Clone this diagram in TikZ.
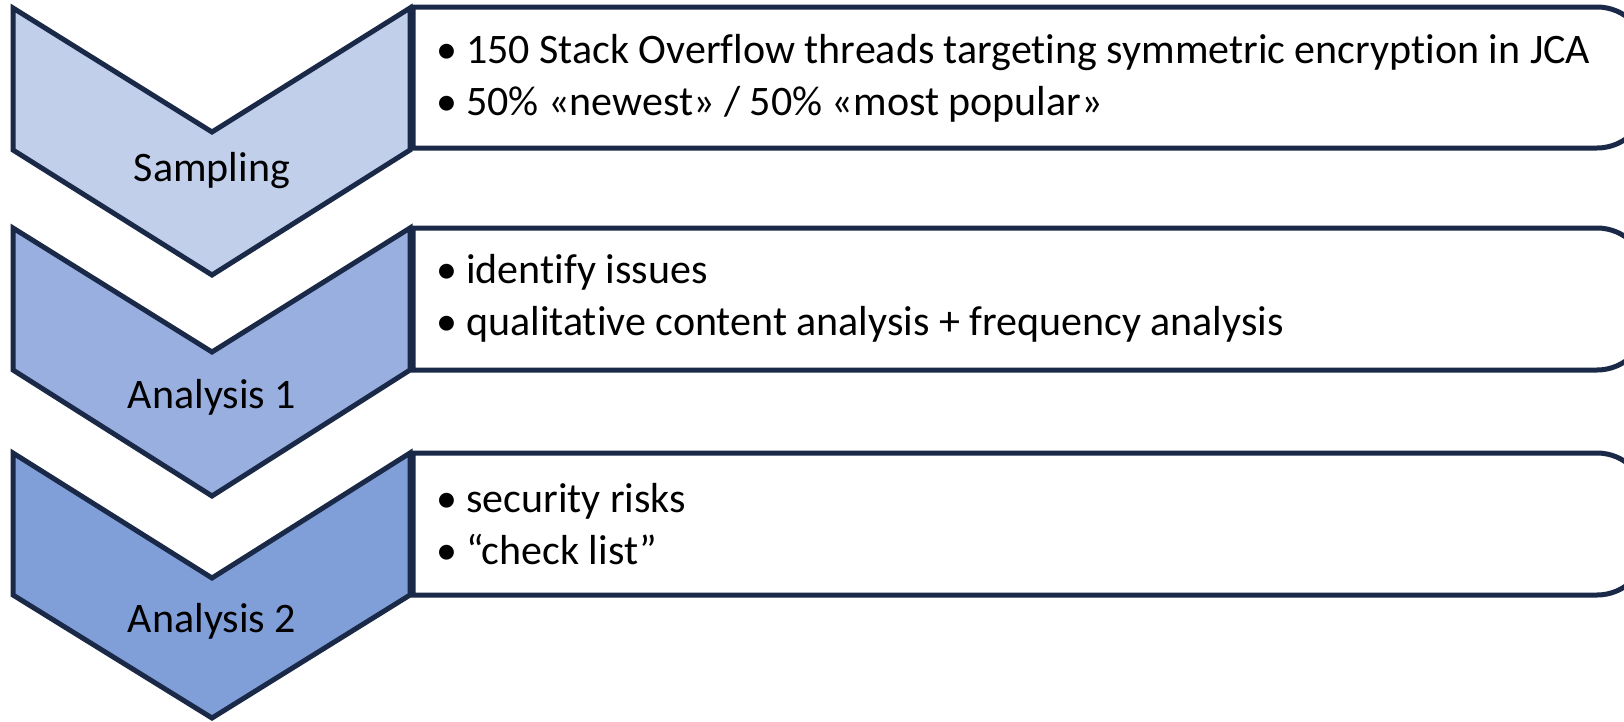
\documentclass[tikz,border=0pt]{standalone}
\usepackage{fontspec}
\setmainfont{Carlito}[Ligatures=NoCommon]
\definecolor{navy}{HTML}{1A2947}
\definecolor{cA}{HTML}{C1CFEB}
\definecolor{cB}{HTML}{98AFDF}
\definecolor{cC}{HTML}{809ED7}
\newcommand{\bl}{\makebox[30pt][l]{•}}
\tikzset{
  chev/.style={draw=navy, line width=5pt, line join=miter},
  boxline/.style={draw=navy, fill=white, line width=5pt},
  lbl/.style={font=\fontsize{42}{52}\selectfont, inner sep=0pt},
  items/.style={font=\fontsize{42}{52}\selectfont, inner sep=0pt, align=left, anchor=west},
}
\newcommand{\stepbox}[2]{% top, bottom
  \path[boxline] (413,#1) -- (1597,#1) arc[start angle=270,end angle=360,radius=50] -- (1647,#2-50) arc[start angle=0,end angle=90,radius=50] -- (413,#2) -- cycle;}
\begin{document}
\begin{tikzpicture}[x=1pt,y=-1pt]
\useasboundingbox (0,0) rectangle (1624,721);
\begin{scope}
\clip (0,0) rectangle (1624,721);
% boxes
\stepbox{7}{148}
\stepbox{228}{370}
\stepbox{453}{595}
% chevrons
\path[chev,fill=cA] (13,8) -- (212,132) -- (410,8) -- (410,150) -- (212,275) -- (13,150) -- cycle;
\path[chev,fill=cB] (13,228) -- (212,352) -- (410,228) -- (410,370) -- (212,496) -- (13,370) -- cycle;
\path[chev,fill=cC] (13,453) -- (212,578) -- (410,453) -- (410,595) -- (212,718) -- (13,595) -- cycle;
\end{scope}
% labels
\node[lbl] (l1) at (212,171) {Sampling};
\node[lbl] (l2) at (212,397) {Analysis 1};
\node[lbl] (l3) at (212,621) {Analysis 2};
% items
\node[items] (t1) at (436,78) {\bl150 Stack Overflow threads targeting symmetric encryption in JCA\\\bl50\% «newest» / 50\% «most popular»};
\node[items] (t2) at (436,298) {\bl identify issues\\\bl qualitative content analysis + frequency analysis};
\node[items] (t3) at (436,524) {\bl security risks\\\bl “check list”};
\end{tikzpicture}
\end{document}
